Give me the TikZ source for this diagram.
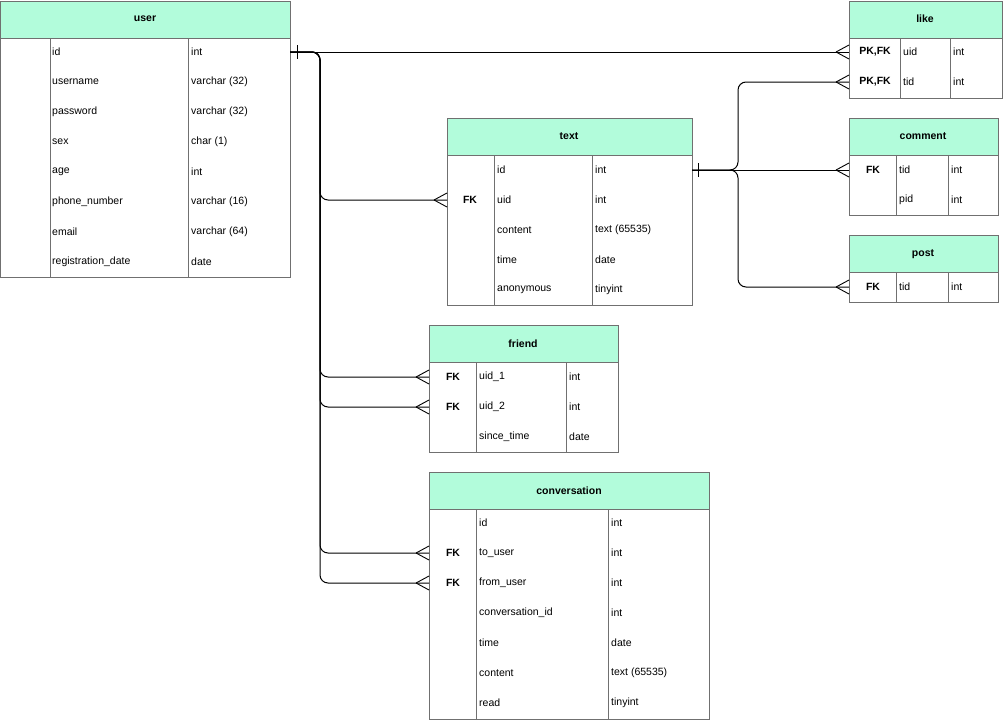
\documentclass[tikz,border=0pt]{standalone}
\usepackage{fontspec}
\setmainfont{Liberation Sans}
\begin{document}
\definecolor{hd}{HTML}{B2FCDB}
\definecolor{bd}{HTML}{707070}
\begin{tikzpicture}[x=1pt,y=-1pt,
  tb/.style={draw=bd,line width=0.9pt},
  hdr/.style={font=\fontsize{10.5}{12}\selectfont\bfseries},
  txt/.style={font=\fontsize{10.5}{12}\selectfont,anchor=west,inner sep=0pt},
  key/.style={font=\fontsize{10.5}{12}\selectfont\bfseries,inner sep=0pt},
  con/.style={black,line width=1pt,rounded corners=8pt},
  crow/.pic={\draw[black,line width=0.9pt] (-13,0) -- (0,-7) (-13,0) -- (0,7);},
  bar/.pic={\draw[black,line width=1pt] (0,-7) -- (0,7);}]
\useasboundingbox (0,0) rectangle (1003,720);
% user
\fill[hd] (0,1) rectangle (290,38);
\draw[tb] (0,1) rectangle (290,277) (0,38) -- (290,38) (50,38) -- (50,277) (188,38) -- (188,277);
\node[hdr] (user) at (145,19) {user};
\coordinate (userR) at (290,0);
\foreach \n/\t [count=\i] in {id/int,username/varchar (32),password/varchar (32),sex/char (1),age/int,phone\_number/varchar (16),email/varchar (64),registration\_date/date}{
  \node[txt] (user-\i) at (52,{52+30*(\i-1)}) {\n};
  \node[txt] (usert-\i) at (191,{52+30*(\i-1)}) {\t};}
% like
\fill[hd] (849,1) rectangle (1002,38);
\draw[tb] (849,1) rectangle (1002,98) (849,38) -- (1002,38) (900,38) -- (900,98) (950,38) -- (950,98);
\node[hdr] (like) at (925,19) {like};
\coordinate (likeL) at (849,0);
\foreach \n [count=\i] in {uid,tid}{
  \node[key] (likek-\i) at (875,{52+30*(\i-1)}) {PK,FK};
  \node[txt] (like-\i) at (903,{52+30*(\i-1)}) {\n};
  \node[txt] (liket-\i) at (953,{52+30*(\i-1)}) {int};}
% text
\fill[hd] (447,118) rectangle (692,155);
\draw[tb] (447,118) rectangle (692,305) (447,155) -- (692,155) (494,155) -- (494,305) (592,155) -- (592,305);
\node[hdr] (text) at (569,136) {text};
\coordinate (textL) at (447,0);
\coordinate (textR) at (692,0);
\node[key] (textk) at (470,200) {FK};
\foreach \n/\t [count=\i] in {id/int,uid/int,content/text (65535),time/date,anonymous/tinyint}{
  \node[txt] (text-\i) at (497,{170+30*(\i-1)}) {\n};
  \node[txt] (textt-\i) at (595,{170+30*(\i-1)}) {\t};}
% comment
\fill[hd] (849,118) rectangle (998,155);
\draw[tb] (849,118) rectangle (998,215) (849,155) -- (998,155) (896,155) -- (896,215) (948,155) -- (948,215);
\node[hdr] (comment) at (923,136) {comment};
\coordinate (commentL) at (849,0);
\node[key] (commentk) at (873,170) {FK};
\foreach \n [count=\i] in {tid,pid}{
  \node[txt] (comment-\i) at (899,{170+30*(\i-1)}) {\n};
  \node[txt] (commentt-\i) at (951,{170+30*(\i-1)}) {int};}
% post
\fill[hd] (849,235) rectangle (998,272);
\draw[tb] (849,235) rectangle (998,302) (849,272) -- (998,272) (896,272) -- (896,302) (948,272) -- (948,302);
\node[hdr] (post) at (923,254) {post};
\coordinate (postL) at (849,0);
\node[key] (postk) at (873,287) {FK};
\node[txt] (post-1) at (899,287) {tid};
\node[txt] (postt-1) at (951,287) {int};
% friend
\fill[hd] (429,325) rectangle (618,362);
\draw[tb] (429,325) rectangle (618,452) (429,362) -- (618,362) (476,362) -- (476,452) (566,362) -- (566,452);
\node[hdr] (friend) at (523,344) {friend};
\coordinate (friendL) at (429,0);
\node[key] (friendk-1) at (453,377) {FK};
\node[key] (friendk-2) at (453,407) {FK};
\foreach \n/\t [count=\i] in {uid\_1/int,uid\_2/int,since\_time/date}{
  \node[txt] (friend-\i) at (479,{377+30*(\i-1)}) {\n};
  \node[txt] (friendt-\i) at (569,{377+30*(\i-1)}) {\t};}
% conversation
\fill[hd] (429,472) rectangle (709,509);
\draw[tb] (429,472) rectangle (709,719) (429,509) -- (709,509) (476,509) -- (476,719) (608,509) -- (608,719);
\node[hdr] (conv) at (569,491) {conversation};
\coordinate (convL) at (429,0);
\node[key] (convk-2) at (453,553) {FK};
\node[key] (convk-3) at (453,583) {FK};
\foreach \n/\t [count=\i] in {id/int,to\_user/int,from\_user/int,conversation\_id/int,time/date,content/text (65535),read/tinyint}{
  \node[txt] (conv-\i) at (479,{523+30*(\i-1)}) {\n};
  \node[txt] (convt-\i) at (611,{523+30*(\i-1)}) {\t};}
% connectors from user.id
\draw[con] (userR |- user-1) -- (likeL |- like-1);
\draw[con] (userR |- user-1) -- (320,52) -- (320,200) -- (textL |- text-2);
\draw[con] (userR |- user-1) -- (320,52) -- (320,377) -- (friendL |- friend-1);
\draw[con] (userR |- user-1) -- (320,52) -- (320,407) -- (friendL |- friend-2);
\draw[con] (userR |- user-1) -- (320,52) -- (320,553) -- (convL |- conv-2);
\draw[con] (userR |- user-1) -- (320,52) -- (320,583) -- (convL |- conv-3);
\pic at (297,52) {bar};
\foreach \t in {(likeL |- like-1),(textL |- text-2),(friendL |- friend-1),(friendL |- friend-2),(convL |- conv-2),(convL |- conv-3)} \pic at \t {crow};
% connectors from text.id
\draw[con] (textR |- text-1) -- (commentL |- comment-1);
\draw[con] (textR |- text-1) -- (738,170) -- (738,82) -- (likeL |- like-2);
\draw[con] (textR |- text-1) -- (738,170) -- (738,287) -- (postL |- post-1);
\pic at (698,170) {bar};
\foreach \t in {(likeL |- like-2),(commentL |- comment-1),(postL |- post-1)} \pic at \t {crow};
\end{tikzpicture}
\end{document}
